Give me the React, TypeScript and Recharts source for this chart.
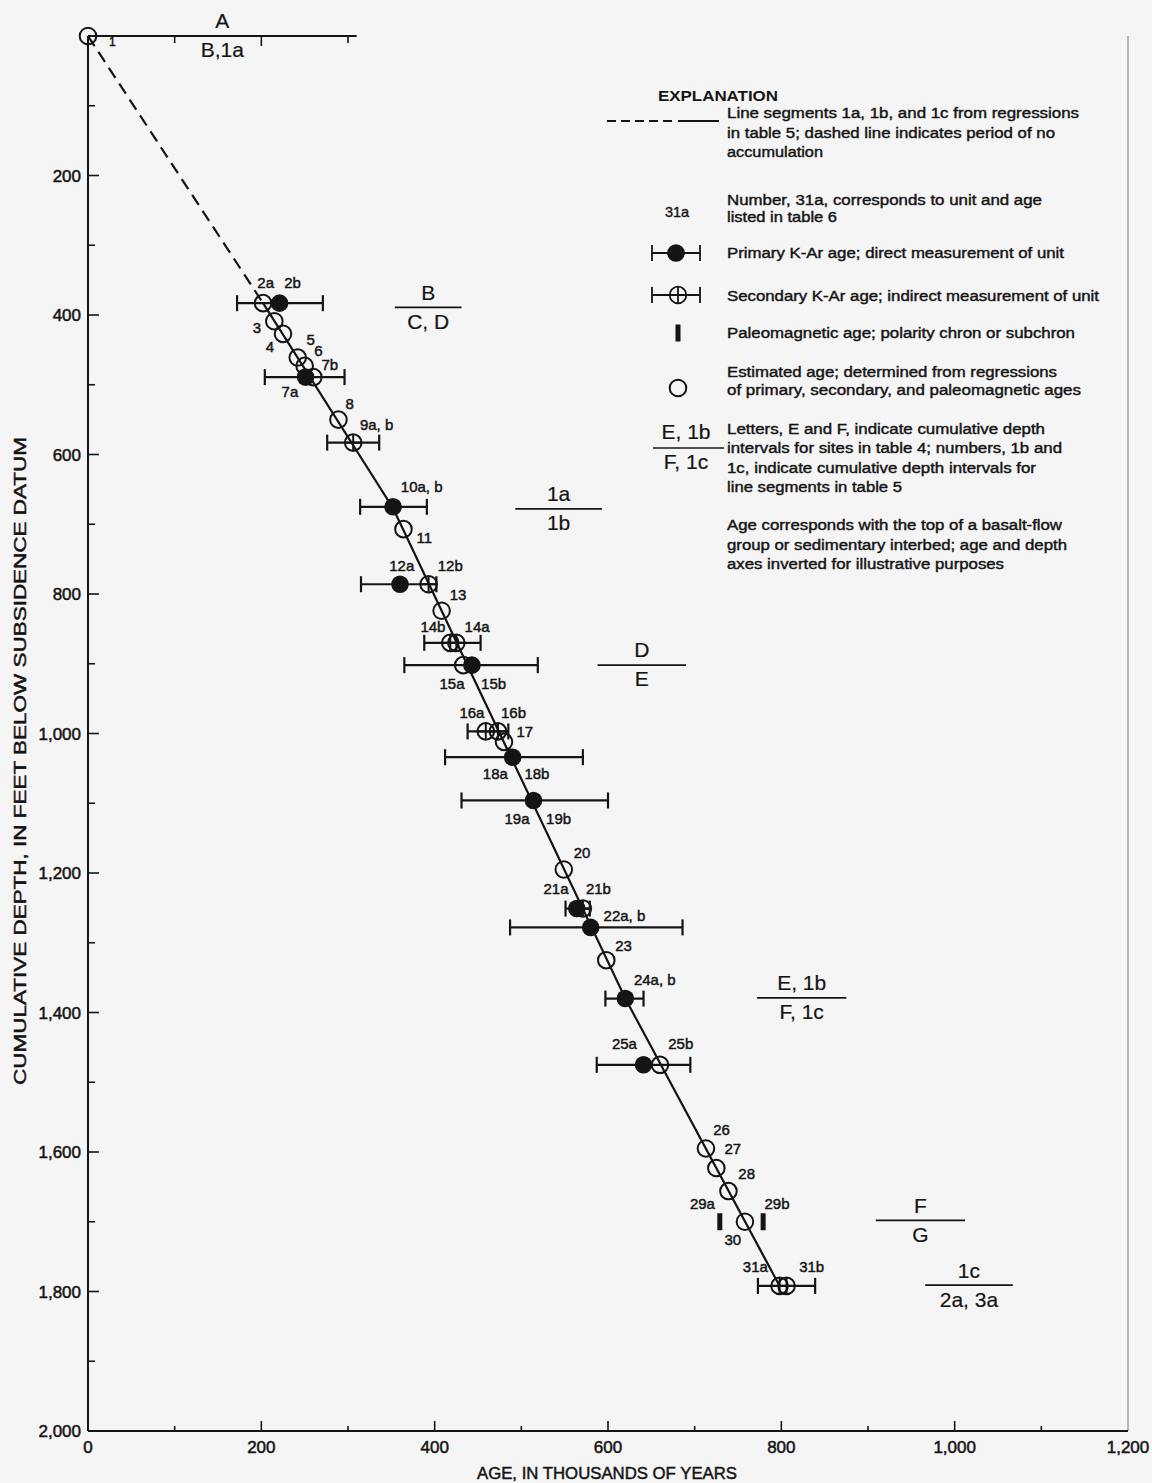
import React from 'react';
import { ScatterChart, Scatter, XAxis, YAxis, ErrorBar, ReferenceLine } from 'recharts';

const INK = '#141414';
const BG = '#f5f5f5';
const FONT = '"Liberation Sans", Arial, Helvetica, sans-serif';

// ---------------- data ----------------
// Primary K-Ar ages (filled symbols)
const primaryAge = [221, 251, 352, 360, 443, 490, 514, 564, 580, 620, 641];
const primaryDepth = [383, 489, 675, 786, 902, 1034, 1096, 1251, 1278, 1380, 1475];

// Secondary K-Ar ages (circle with cross)
const secondaryAge = [306, 393, 418, 425, 459, 473, 571, 798, 806];
const secondaryDepth = [583, 786, 870, 870, 997, 997, 1251, 1792, 1792];

// Estimated ages (open circles)
const estimatedAge = [0, 202, 215, 225, 242, 250, 260, 289, 364, 408, 433, 480, 549, 598, 660, 713, 725, 739, 758];
const estimatedDepth = [0, 383, 409, 427, 461, 473, 489, 550, 707, 824, 902, 1012, 1195, 1325, 1475, 1595, 1623, 1656, 1700];

// Paleomagnetic ages
const paleoAge = [729, 779];
const paleoDepth = [1700, 1700];

// Age uncertainty ranges (centre, low, high)
const rangeAge = [221, 251, 306, 352, 360, 425, 443, 459, 490, 514, 564, 580, 620, 641, 798];
const rangeDepth = [383, 489, 583, 675, 786, 870, 902, 997, 1034, 1096, 1251, 1278, 1380, 1475, 1792];
const rangeLow = [172, 204, 276, 314, 315, 388, 365, 438, 412, 431, 551, 487, 597, 587, 773];
const rangeHigh = [271, 296, 336, 391, 402, 453, 519, 485, 571, 600, 579, 686, 641, 695, 839];

// Regression line segments 1a, 1b, 1c and dashed no-accumulation period
const dashAge = [0, 202];
const dashDepth = [0, 383];
const lineAge = [202, 352, 620, 798];
const lineDepth = [383, 677, 1380, 1792];

// Unit number labels
const labelText = ['1', '2a', '2b', '3', '4', '5', '6', '7b', '7a', '8', '9a, b', '10a, b', '11', '12a', '12b', '13', '14b', '14a', '15a', '15b', '16a', '16b', '17', '18a', '18b', '19a', '19b', '20', '21a', '21b', '22a, b', '23', '24a, b', '25a', '25b', '26', '27', '28', '29a', '29b', '30', '31a', '31b'];
const labelAge = [28, 205, 236, 195, 210, 257, 266, 279, 233, 302, 333, 385, 388, 362, 418, 427, 398, 449, 420, 468, 443, 491, 504, 470, 518, 495, 543, 570, 540, 589, 619, 618, 654, 619, 684, 731, 744, 760, 709, 795, 744, 770, 835];
const labelDepth = [9, 354, 354, 418, 446, 436, 451, 471, 510, 527, 558, 646, 720, 760, 760, 801, 847, 847, 929, 929, 970, 970, 997, 1058, 1058, 1122, 1122, 1171, 1223, 1223, 1262, 1305, 1353, 1445, 1445, 1568, 1596, 1631, 1674, 1674, 1726, 1764, 1764];

// Cumulative depth intervals (sites / line segments)
const intervalTop = ['A', 'B', '1a', 'D', 'E, 1b', 'F', '1c'];
const intervalBottom = ['B,1a', 'C, D', '1b', 'E', 'F, 1c', 'G', '2a, 3a'];
const intervalStart = [0, 354, 493, 588, 772, 909, 966];
const intervalEnd = [310, 431, 593, 690, 875, 1012, 1067];
const intervalDepth = [0, 389, 678, 902, 1379, 1698, 1791];

// Axis ticks
const xTicks = [0, 100, 200, 300, 400, 500, 600, 700, 800, 900, 1000, 1100, 1200];
const yTicks = [0, 100, 200, 300, 400, 500, 600, 700, 800, 900, 1000, 1100, 1200, 1300, 1400, 1500, 1600, 1700, 1800, 1900, 2000];
const topTicks = [100, 200, 300];

// ---------------- tables ----------------
const pts = (a: number[], d: number[]) => a.map((x, i) => ({ x, y: d[i] }));
const primaryData = pts(primaryAge, primaryDepth);
const secondaryData = pts(secondaryAge, secondaryDepth);
const estimatedData = pts(estimatedAge, estimatedDepth);
const paleoData = pts(paleoAge, paleoDepth);
const rangeData = rangeAge.map((x, i) => ({ x, y: rangeDepth[i], err: [x - rangeLow[i], rangeHigh[i] - x] }));
const dashData = pts(dashAge, dashDepth);
const lineData = pts(lineAge, lineDepth);
const labelData = labelText.map((t, i) => ({ x: labelAge[i], y: labelDepth[i], t }));
const topTickData = topTicks.map((x) => ({ x, y: 0, major: x % 200 === 0 }));
const intervalData = intervalTop.map((t, i) => ({
  x: (intervalStart[i] + intervalEnd[i]) / 2,
  y: intervalDepth[i],
  top: t,
  bottom: intervalBottom[i],
}));

const fmt = (v: number) => v.toLocaleString('en-US');

// ---------------- shapes ----------------
const Nothing = () => <g />;
const Filled = (p: any) => <circle cx={p.cx} cy={p.cy} r={8.8} fill={INK} />;
const Open = (p: any) => <circle cx={p.cx} cy={p.cy} r={8.3} fill="none" stroke={INK} strokeWidth={2} />;
const Cross = (p: any) => (
  <g stroke={INK} strokeWidth={2} fill="none">
    <circle cx={p.cx} cy={p.cy} r={8.3} />
    <line x1={p.cx - 8.3} y1={p.cy} x2={p.cx + 8.3} y2={p.cy} />
    <line x1={p.cx} y1={p.cy - 8.3} x2={p.cx} y2={p.cy + 8.3} />
  </g>
);
const Paleo = (p: any) => <rect x={p.cx - 2.5} y={p.cy - 8.5} width={5} height={17} fill={INK} />;
const TopTickMark = (p: any) => (
  <line x1={p.cx} y1={p.cy} x2={p.cx} y2={p.cy + (p.payload.major ? 10 : 7)} stroke={INK} strokeWidth={1.6} />
);
const Label = (p: any) => (
  <text x={p.cx} y={p.cy} dy="0.35em" textAnchor="middle" fontFamily={FONT} fontSize={p.payload.t === '1' ? 12 : 15} fill={INK} stroke={INK} strokeWidth={0.45}>
    {p.payload.t}
  </text>
);
const Interval = (p: any) => (
  <g fontFamily={FONT} fontSize={21} fill={INK} stroke={INK} strokeWidth={0.2} textAnchor="middle">
    <text x={p.cx} y={p.cy - 15} dy="0.35em">{p.payload.top}</text>
    <text x={p.cx} y={p.cy + 14} dy="0.35em">{p.payload.bottom}</text>
  </g>
);

// ---------------- ticks ----------------
const LeftTick = (props: any) => {
  const { x, y, payload } = props;
  const v = payload.value;
  const major = v % 200 === 0;
  return (
    <g>
      {v > 0 && v < 2000 && <line x1={x} y1={y} x2={x + (major ? 11 : 7)} y2={y} stroke={INK} strokeWidth={1.6} />}
      {major && v > 0 && (
        <text x={x - 7} y={y} dy="0.36em" textAnchor="end" fontFamily={FONT} fontSize={17} fill={INK} stroke={INK} strokeWidth={0.5}>
          {fmt(v)}
        </text>
      )}
    </g>
  );
};
const BottomTick = (props: any) => {
  const { x, y, payload } = props;
  const v = payload.value;
  const major = v % 200 === 0;
  return (
    <g>
      {v > 0 && v < 1200 && <line x1={x} y1={y} x2={x} y2={y - (major ? 10 : 5)} stroke={INK} strokeWidth={1.6} />}
      {major && (
        <text x={x} y={y + 16} dy="0.36em" textAnchor="middle" fontFamily={FONT} fontSize={17} fill={INK} stroke={INK} strokeWidth={0.5}>
          {fmt(v)}
        </text>
      )}
    </g>
  );
};

// ---------------- explanation ----------------
const EXP_X = 727;
const expLines: [number, string, number][] = [
  [113, 'Line segments 1a, 1b, and 1c from regressions', 352],
  [132.7, 'in table 5; dashed line indicates period of no', 328],
  [151.7, 'accumulation', 96],
  [200, 'Number, 31a, corresponds to unit and age', 315],
  [216.7, 'listed in table 6', 110],
  [253, 'Primary K-Ar age; direct measurement of unit', 337],
  [296, 'Secondary K-Ar age; indirect measurement of unit', 372],
  [333, 'Paleomagnetic age; polarity chron or subchron', 348],
  [371.7, 'Estimated age; determined from regressions', 330],
  [390, 'of primary, secondary, and paleomagnetic ages', 354],
  [429.3, 'Letters, E and F, indicate cumulative depth', 318],
  [448.3, 'intervals for sites in table 4; numbers, 1b and', 335],
  [467.7, '1c, indicate cumulative depth intervals for', 309],
  [486.7, 'line segments in table 5', 175],
  [525, 'Age corresponds with the top of a basalt-flow', 335],
  [545, 'group or sedimentary interbed; age and depth', 340],
  [564.3, 'axes inverted for illustrative purposes', 277],
];

const Explanation = () => (
  <svg width={1152} height={1483} style={{ position: 'absolute', left: 0, top: 0, pointerEvents: 'none' }}>
    <g fontFamily={FONT} fill={INK}>
      <text x={658} y={96} dy="0.35em" fontSize={14.5} fontWeight="bold" textLength={120} lengthAdjust="spacingAndGlyphs">EXPLANATION</text>
      {expLines.map(([y, t, w], i) => (
        <text key={i} x={EXP_X} y={y} dy="0.35em" fontSize={14} stroke={INK} strokeWidth={0.4} textLength={w} lengthAdjust="spacingAndGlyphs">
          {t}
        </text>
      ))}
      {/* line sample */}
      <line x1={607} y1={121} x2={676} y2={121} stroke={INK} strokeWidth={1.8} strokeDasharray="9 5" />
      <line x1={678} y1={121} x2={719} y2={121} stroke={INK} strokeWidth={1.8} />
      {/* number sample */}
      <text x={677} y={211.7} dy="0.35em" fontSize={14.5} textAnchor="middle" stroke={INK} strokeWidth={0.4}>31a</text>
      {/* primary */}
      <g stroke={INK} strokeWidth={1.8}>
        <line x1={652} y1={253} x2={700} y2={253} />
        <line x1={652} y1={245} x2={652} y2={261} />
        <line x1={700} y1={245} x2={700} y2={261} />
      </g>
      <circle cx={676} cy={253} r={8.8} fill={INK} />
      {/* secondary */}
      <g stroke={INK} strokeWidth={1.8} fill="none">
        <line x1={652} y1={295} x2={700} y2={295} />
        <line x1={652} y1={287} x2={652} y2={303} />
        <line x1={700} y1={287} x2={700} y2={303} />
        <circle cx={678} cy={295} r={8.3} />
        <line x1={678} y1={286.7} x2={678} y2={303.3} />
      </g>
      {/* paleomagnetic */}
      <rect x={675.5} y={324.5} width={5} height={17} fill={INK} />
      {/* estimated */}
      <circle cx={678} cy={388} r={8.3} fill="none" stroke={INK} strokeWidth={2} />
      {/* interval sample */}
      <g stroke={INK} strokeWidth={0.2}>
        <text x={686} y={431.7} dy="0.35em" fontSize={21} textAnchor="middle">E, 1b</text>
        <text x={686} y={461.7} dy="0.35em" fontSize={21} textAnchor="middle">F, 1c</text>
      </g>
      <line x1={653} y1={448} x2={724} y2={448} stroke={INK} strokeWidth={1.6} />
    </g>
  </svg>
);

export default function App() {
  return (
    <div style={{ position: 'absolute', left: 0, top: 0, width: 1152, height: 1483, background: BG, overflow: 'hidden' }}>
      <ScatterChart width={1152} height={1483} margin={{ top: 36, right: 24, bottom: 12, left: 8 }}>
        <XAxis
          type="number"
          dataKey="x"
          domain={[0, 1200]}
          ticks={xTicks}
          interval={0}
          height={40}
          tickSize={0}
          tickMargin={0}
          tick={BottomTick}
          axisLine={{ stroke: INK, strokeWidth: 2 }}
          tickLine={false}
        />
        <YAxis
          type="number"
          dataKey="y"
          domain={[0, 2000]}
          reversed
          ticks={yTicks}
          interval={0}
          width={80}
          tickSize={0}
          tickMargin={0}
          tick={LeftTick}
          axisLine={{ stroke: INK, strokeWidth: 2 }}
          tickLine={false}
        />

        <ReferenceLine x={1200} stroke="#8a8a8a" strokeWidth={1.2} ifOverflow="visible" />

        {intervalStart.map((s, i) => (
          <ReferenceLine
            key={'iv' + i}
            segment={[{ x: s, y: intervalDepth[i] }, { x: intervalEnd[i], y: intervalDepth[i] }]}
            stroke={INK}
            strokeWidth={1.8}
            ifOverflow="visible"
          />
        ))}

        <Scatter data={topTickData} shape={TopTickMark} isAnimationActive={false} />
        <Scatter data={dashData} line={{ stroke: INK, strokeWidth: 2.2, strokeDasharray: '12 7' }} shape={Nothing} isAnimationActive={false} />
        <Scatter data={lineData} line={{ stroke: INK, strokeWidth: 2.2 }} shape={Nothing} isAnimationActive={false} />
        <Scatter data={rangeData} shape={Nothing} isAnimationActive={false}>
          <ErrorBar dataKey="err" direction="x" width={8} stroke={INK} strokeWidth={2.2} isAnimationActive={false} />
        </Scatter>
        <Scatter data={estimatedData} shape={Open} isAnimationActive={false} />
        <Scatter data={secondaryData} shape={Cross} isAnimationActive={false} />
        <Scatter data={primaryData} shape={Filled} isAnimationActive={false} />
        <Scatter data={paleoData} shape={Paleo} isAnimationActive={false} />
        <Scatter data={labelData} shape={Label} isAnimationActive={false} />
        <Scatter data={intervalData} shape={Interval} isAnimationActive={false} />
      </ScatterChart>
      <Explanation />
      <svg width={1152} height={1483} style={{ position: 'absolute', left: 0, top: 0, pointerEvents: 'none' }}>
        <text x={607} y={1473} dy="0.35em" textAnchor="middle" fontFamily={FONT} fontSize={16} fill={INK} stroke={INK} strokeWidth={0.45} textLength={260} lengthAdjust="spacingAndGlyphs">
          AGE, IN THOUSANDS OF YEARS
        </text>
        <text x={0} y={0} transform="translate(20,761) rotate(-90)" dy="0.35em" textAnchor="middle" fontFamily={FONT} fontSize={16} fill={INK} stroke={INK} strokeWidth={0.45} textLength={648} lengthAdjust="spacingAndGlyphs">
          CUMULATIVE DEPTH, IN FEET BELOW SUBSIDENCE DATUM
        </text>
      </svg>
    </div>
  );
}
